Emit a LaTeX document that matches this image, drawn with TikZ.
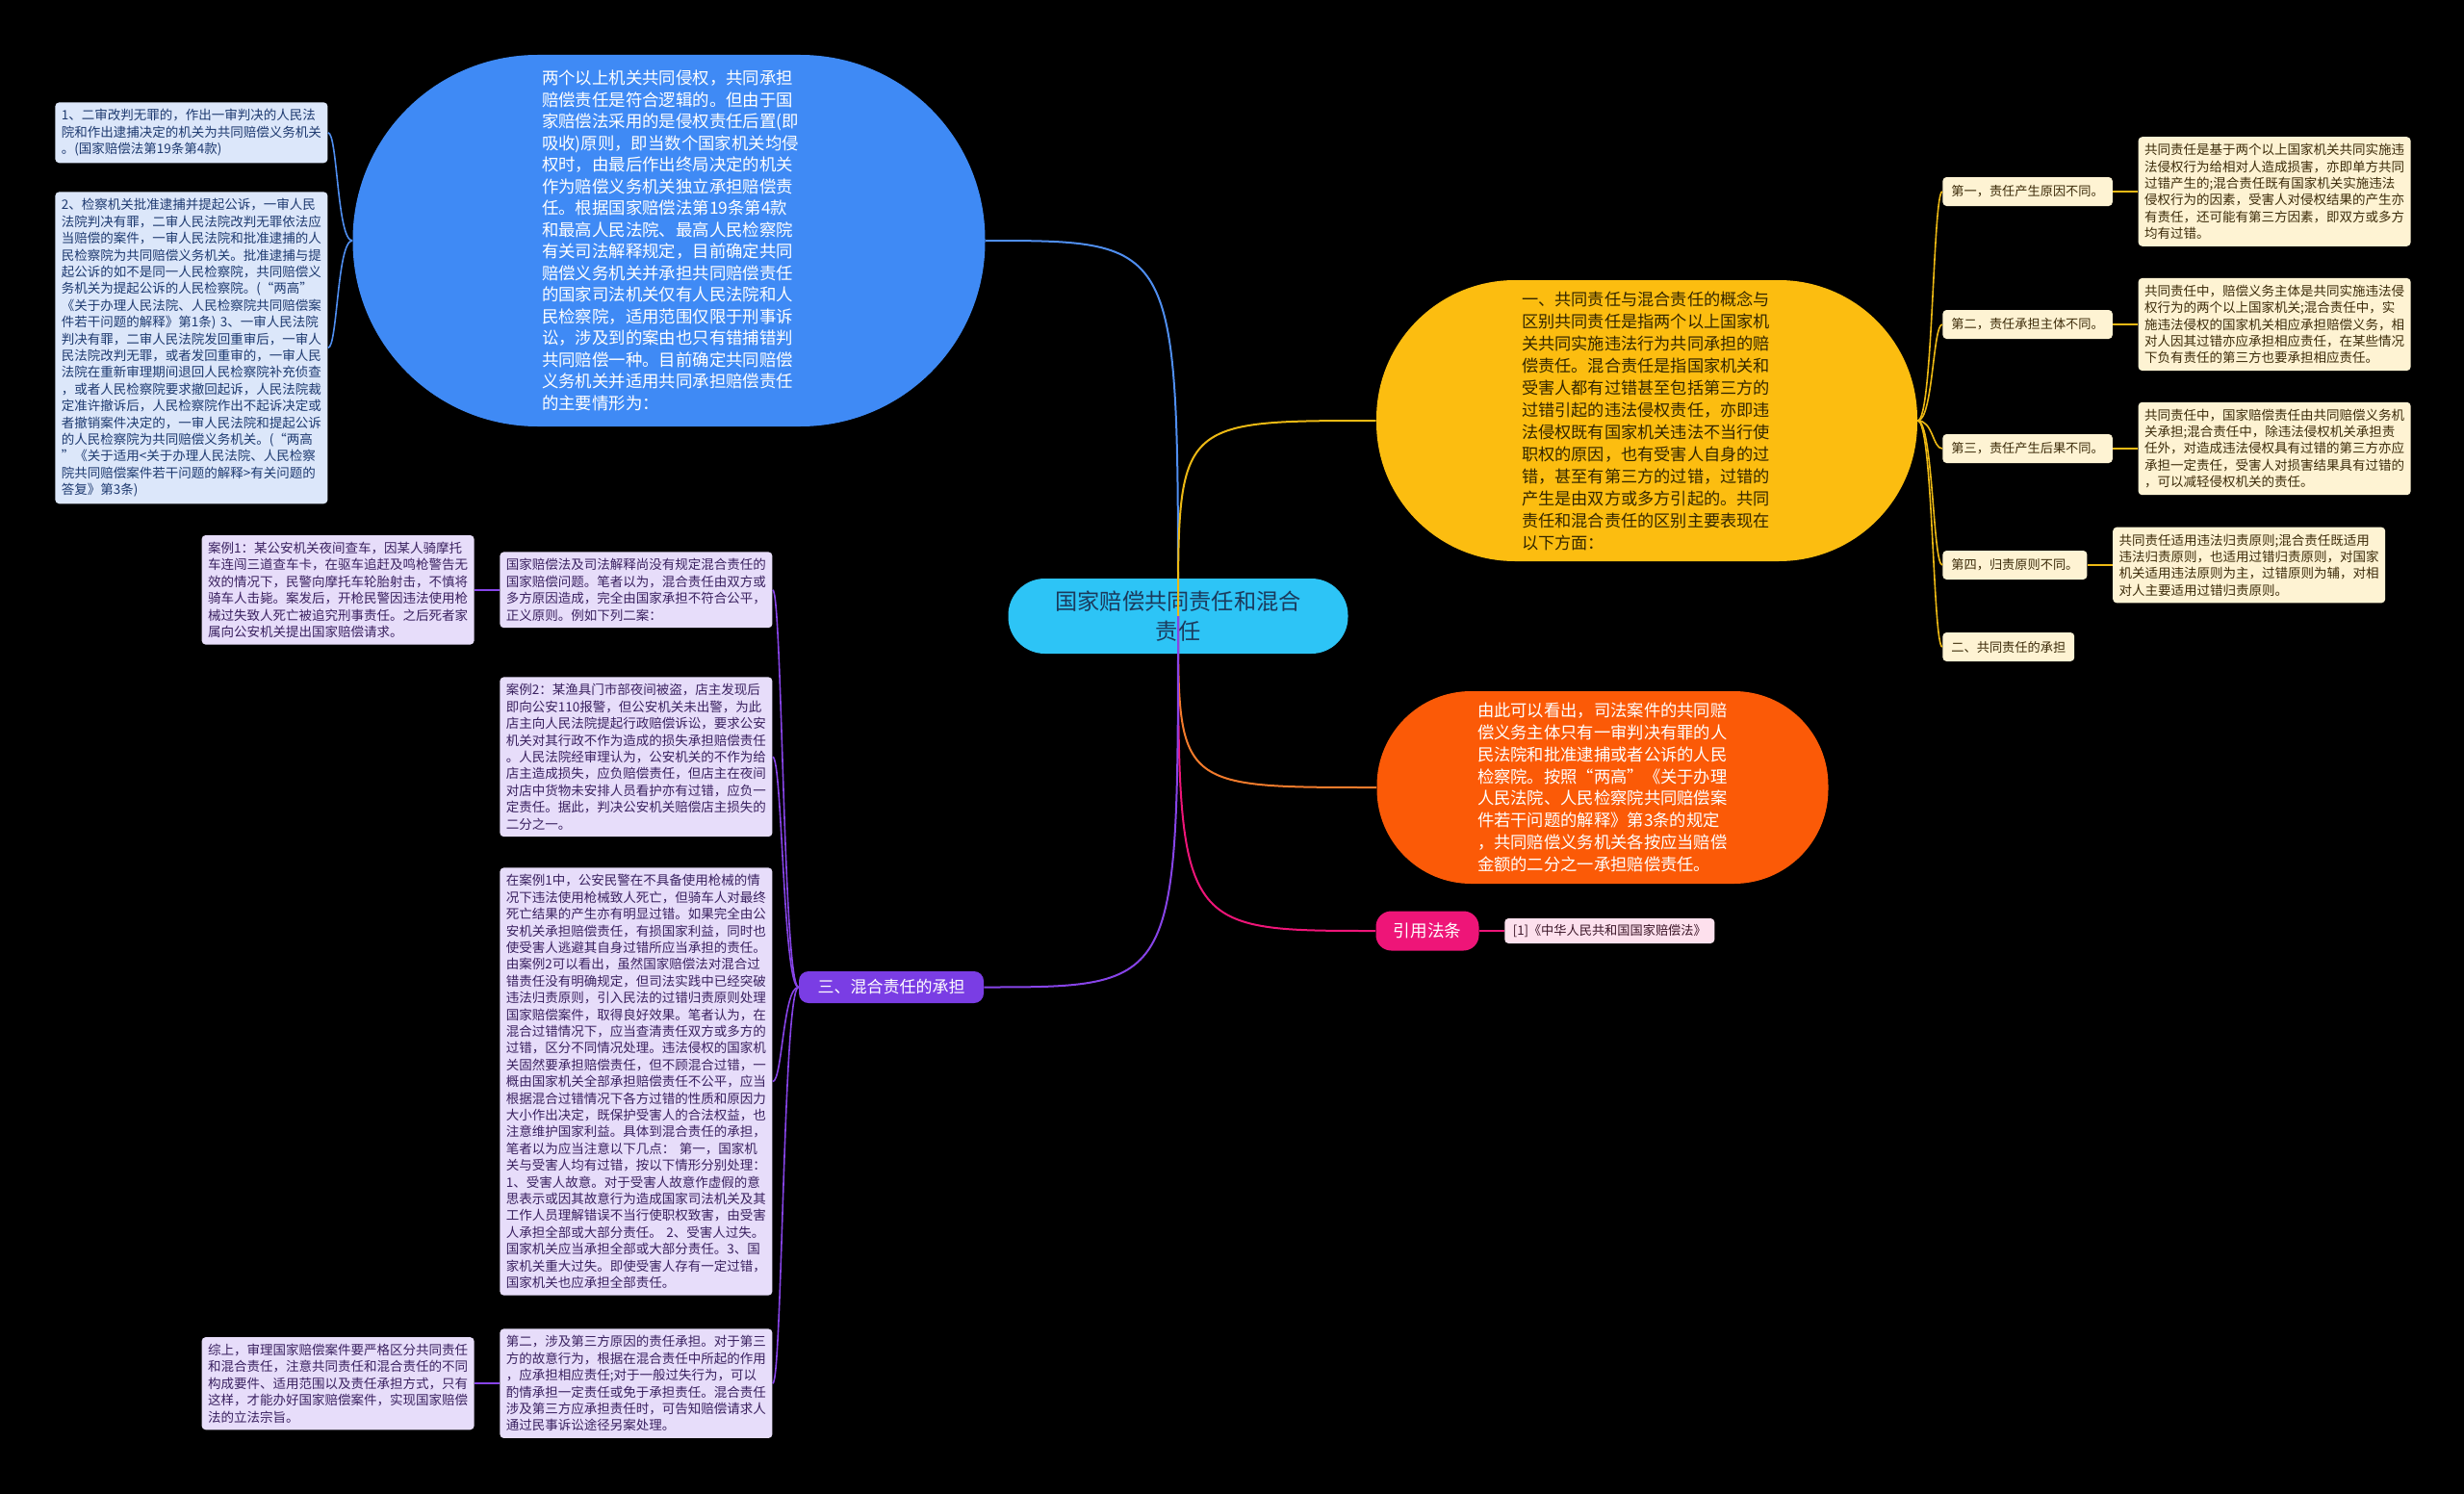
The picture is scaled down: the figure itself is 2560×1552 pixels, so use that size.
\documentclass[tikz,border=0pt]{standalone}
\usepackage{fontspec}
\setmainfont{Noto Sans CJK SC}
\usetikzlibrary{positioning}
\definecolor{hub}{HTML}{2DC4F6}
\definecolor{hubink}{HTML}{1B3A5C}
\definecolor{sky}{HTML}{3F8AF5}
\definecolor{skyline}{HTML}{4F8EF0}
\definecolor{skyleaf}{HTML}{DCE7FA}
\definecolor{skyink}{HTML}{1E3A70}
\definecolor{amber}{HTML}{FCBD10}
\definecolor{amberink}{HTML}{332600}
\definecolor{goldline}{HTML}{EDB914}
\definecolor{cream}{HTML}{FEF3D3}
\definecolor{creamink}{HTML}{3D2C0A}
\definecolor{flame}{HTML}{FB5A07}
\definecolor{flameline}{HTML}{F37B2C}
\definecolor{berry}{HTML}{EE1578}
\definecolor{blush}{HTML}{FDE0ED}
\definecolor{blushink}{HTML}{3C1628}
\definecolor{violet}{HTML}{7A3DE4}
\definecolor{violetline}{HTML}{8744E8}
\definecolor{lilac}{HTML}{E7DDFA}
\definecolor{lilacink}{HTML}{3A2160}

\begin{document}
\begin{tikzpicture}[x=0.5pt,y=-0.5pt,
  lobe/.style={rounded corners=#1,inner sep=0pt,align=left},
  leafbox/.style={anchor=north west,rounded corners=2pt,inner xsep=3.25pt,
    inner ysep=3.5pt,text width=135pt,align=left,
    font=\fontsize{6.75}{8.7}\selectfont},
  skybox/.style={leafbox,fill=skyleaf,text=skyink},
  lilacbox/.style={leafbox,fill=lilac,text=lilacink},
  creambox/.style={leafbox,fill=cream,text=creamink},
  tagbox/.style={anchor=west,rounded corners=2pt,fill=cream,text=creamink,
    inner xsep=4.5pt,inner ysep=0pt,minimum height=15pt,
    font=\fontsize{6.6}{8}\selectfont},
  link/.style={line width=1pt},
  thinlink/.style={line width=0.8pt}]
  \fill[black] (0,0) rectangle (2560,1552);
  \useasboundingbox (0,0) rectangle (2560,1552);

  % centre
  \node[lobe=19pt,fill=hub,text=hubink,align=center,minimum width=176.5pt,
    minimum height=39pt,font=\fontsize{11.6}{15.5}\selectfont] (hub) at (1224,640)
    {国家赔偿共同责任和混合\\责任};

  % joint liability, left top
  \node[lobe=96pt,fill=sky,text=white,minimum width=328.5pt,minimum height=193pt,
    text width=132pt,font=\fontsize{8.7}{11.25}\selectfont] (joint) at (695,250)
    {两个以上机关共同侵权，共同承担\\
     赔偿责任是符合逻辑的。但由于国\\
     家赔偿法采用的是侵权责任后置(即\\
     吸收)原则，即当数个国家机关均侵\\
     权时，由最后作出终局决定的机关\\
     作为赔偿义务机关独立承担赔偿责\\
     任。根据国家赔偿法第19条第4款\\
     和最高人民法院、最高人民检察院\\
     有关司法解释规定，目前确定共同\\
     赔偿义务机关并承担共同赔偿责任\\
     的国家司法机关仅有人民法院和人\\
     民检察院，适用范围仅限于刑事诉\\
     讼，涉及到的案由也只有错捕错判\\
     共同赔偿一种。目前确定共同赔偿\\
     义务机关并适用共同承担赔偿责任\\
     的主要情形为：};
  \node[skybox] (art1) at (57,106)
    {1、二审改判无罪的，作出一审判决的人民法\\
     院和作出逮捕决定的机关为共同赔偿义务机关\\
     。(国家赔偿法第19条第4款)};
  \node[skybox] (art2) at (57,199)
    {2、检察机关批准逮捕并提起公诉，一审人民\\
     法院判决有罪，二审人民法院改判无罪依法应\\
     当赔偿的案件，一审人民法院和批准逮捕的人\\
     民检察院为共同赔偿义务机关。批准逮捕与提\\
     起公诉的如不是同一人民检察院，共同赔偿义\\
     务机关为提起公诉的人民检察院。(“两高”\\
     《关于办理人民法院、人民检察院共同赔偿案\\
     件若干问题的解释》第1条)~3、一审人民法院\\
     判决有罪，二审人民法院发回重审后，一审人\\
     民法院改判无罪，或者发回重审的，一审人民\\
     法院在重新审理期间退回人民检察院补充侦查\\
     ，或者人民检察院要求撤回起诉，人民法院裁\\
     定准许撤诉后，人民检察院作出不起诉决定或\\
     者撤销案件决定的，一审人民法院和提起公诉\\
     的人民检察院为共同赔偿义务机关。(“两高\\
     ”《关于适用<关于办理人民法院、人民检察\\
     院共同赔偿案件若干问题的解释>有关问题的\\
     答复》第3条)};

  % concept, right top
  \node[lobe=72pt,fill=amber,text=amberink,minimum width=281pt,minimum height=146pt,
    text width=130pt,font=\fontsize{8.6}{11.5}\selectfont] (concept) at (1711,437)
    {一、共同责任与混合责任的概念与\\
     区别共同责任是指两个以上国家机\\
     关共同实施违法行为共同承担的赔\\
     偿责任。混合责任是指国家机关和\\
     受害人都有过错甚至包括第三方的\\
     过错引起的违法侵权责任，亦即违\\
     法侵权既有国家机关违法不当行使\\
     职权的原因，也有受害人自身的过\\
     错，甚至有第三方的过错，过错的\\
     产生是由双方或多方引起的。共同\\
     责任和混合责任的区别主要表现在\\
     以下方面：};
  \node[tagbox] (cause) at (2018,199) {第一，责任产生原因不同。};
  \node[tagbox] (subject) at (2018,337) {第二，责任承担主体不同。};
  \node[tagbox] (result) at (2018,466) {第三，责任产生后果不同。};
  \node[tagbox] (principle) at (2018,587) {第四，归责原则不同。};
  \node[tagbox] (bearing) at (2018,672) {二、共同责任的承担};
  \node[creambox,right=13pt of cause] (causetxt)
    {共同责任是基于两个以上国家机关共同实施违\\
     法侵权行为给相对人造成损害，亦即单方共同\\
     过错产生的;混合责任既有国家机关实施违法\\
     侵权行为的因素，受害人对侵权结果的产生亦\\
     有责任，还可能有第三方因素，即双方或多方\\
     均有过错。};
  \node[creambox,right=13pt of subject] (subjecttxt)
    {共同责任中，赔偿义务主体是共同实施违法侵\\
     权行为的两个以上国家机关;混合责任中，实\\
     施违法侵权的国家机关相应承担赔偿义务，相\\
     对人因其过错亦应承担相应责任，在某些情况\\
     下负有责任的第三方也要承担相应责任。};
  \node[creambox,right=13pt of result] (resulttxt)
    {共同责任中，国家赔偿责任由共同赔偿义务机\\
     关承担;混合责任中，除违法侵权机关承担责\\
     任外，对造成违法侵权具有过错的第三方亦应\\
     承担一定责任，受害人对损害结果具有过错的\\
     ，可以减轻侵权机关的责任。};
  \node[creambox,right=13pt of principle] (principletxt)
    {共同责任适用违法归责原则;混合责任既适用\\
     违法归责原则，也适用过错归责原则，对国家\\
     机关适用违法原则为主，过错原则为辅，对相\\
     对人主要适用过错归责原则。};

  % share, right middle
  \node[lobe=49pt,fill=flame,text=white,minimum width=234.5pt,minimum height=100pt,
    text width=130pt,font=\fontsize{8.65}{11.4}\selectfont] (share) at (1665,818)
    {由此可以看出，司法案件的共同赔\\
     偿义务主体只有一审判决有罪的人\\
     民法院和批准逮捕或者公诉的人民\\
     检察院。按照“两高”《关于办理\\
     人民法院、人民检察院共同赔偿案\\
     件若干问题的解释》第3条的规定\\
     ，共同赔偿义务机关各按应当赔偿\\
     金额的二分之一承担赔偿责任。};

  % cited law
  \node[rounded corners=8pt,fill=berry,text=white,minimum width=53.5pt,
    minimum height=20.5pt,inner sep=0pt,font=\fontsize{8.8}{10}\selectfont]
    (cite) at (1483,967) {引用法条};
  \node[rounded corners=2pt,fill=blush,text=blushink,minimum width=109pt,
    minimum height=13pt,inner sep=0pt,font=\fontsize{6.6}{8}\selectfont,
    right=13pt of cite] (law) {[1]《中华人民共和国国家赔偿法》};

  % mixed liability, left bottom
  \node[rounded corners=5pt,fill=violet,text=white,minimum width=96pt,
    minimum height=16.5pt,inner sep=0pt,font=\fontsize{8.5}{10}\selectfont]
    (mixed) at (926,1025.5) {三、混合责任的承担};
  \node[lilacbox] (gap) at (519,573)
    {国家赔偿法及司法解释尚没有规定混合责任的\\
     国家赔偿问题。笔者以为，混合责任由双方或\\
     多方原因造成，完全由国家承担不符合公平，\\
     正义原则。例如下列二案：};
  \node[lilacbox,anchor=east,left=13pt of gap] (case1)
    {案例1：某公安机关夜间查车，因某人骑摩托\\
     车连闯三道查车卡，在驱车追赶及鸣枪警告无\\
     效的情况下，民警向摩托车轮胎射击，不慎将\\
     骑车人击毙。案发后，开枪民警因违法使用枪\\
     械过失致人死亡被追究刑事责任。之后死者家\\
     属向公安机关提出国家赔偿请求。};
  \node[lilacbox] (case2) at (519,703)
    {案例2：某渔具门市部夜间被盗，店主发现后\\
     即向公安110报警，但公安机关未出警，为此\\
     店主向人民法院提起行政赔偿诉讼，要求公安\\
     机关对其行政不作为造成的损失承担赔偿责任\\
     。人民法院经审理认为，公安机关的不作为给\\
     店主造成损失，应负赔偿责任，但店主在夜间\\
     对店中货物未安排人员看护亦有过错，应负一\\
     定责任。据此，判决公安机关赔偿店主损失的\\
     二分之一。};
  \node[lilacbox] (verdict) at (519,901)
    {在案例1中，公安民警在不具备使用枪械的情\\
     况下违法使用枪械致人死亡，但骑车人对最终\\
     死亡结果的产生亦有明显过错。如果完全由公\\
     安机关承担赔偿责任，有损国家利益，同时也\\
     使受害人逃避其自身过错所应当承担的责任。\\
     由案例2可以看出，虽然国家赔偿法对混合过\\
     错责任没有明确规定，但司法实践中已经突破\\
     违法归责原则，引入民法的过错归责原则处理\\
     国家赔偿案件，取得良好效果。笔者认为，在\\
     混合过错情况下，应当查清责任双方或多方的\\
     过错，区分不同情况处理。违法侵权的国家机\\
     关固然要承担赔偿责任，但不顾混合过错，一\\
     概由国家机关全部承担赔偿责任不公平，应当\\
     根据混合过错情况下各方过错的性质和原因力\\
     大小作出决定，既保护受害人的合法权益，也\\
     注意维护国家利益。具体到混合责任的承担，\\
     笔者以为应当注意以下几点：~第一，国家机\\
     关与受害人均有过错，按以下情形分别处理：\\
     1、受害人故意。对于受害人故意作虚假的意\\
     思表示或因其故意行为造成国家司法机关及其\\
     工作人员理解错误不当行使职权致害，由受害\\
     人承担全部或大部分责任。~2、受害人过失。\\
     国家机关应当承担全部或大部分责任。3、国\\
     家机关重大过失。即使受害人存有一定过错，\\
     国家机关也应承担全部责任。};
  \node[lilacbox] (third) at (519,1380)
    {第二，涉及第三方原因的责任承担。对于第三\\
     方的故意行为，根据在混合责任中所起的作用\\
     ，应承担相应责任;对于一般过失行为，可以\\
     酌情承担一定责任或免于承担责任。混合责任\\
     涉及第三方应承担责任时，可告知赔偿请求人\\
     通过民事诉讼途径另案处理。};
  \node[lilacbox,anchor=east,left=13pt of third] (sum)
    {综上，审理国家赔偿案件要严格区分共同责任\\
     和混合责任，注意共同责任和混合责任的不同\\
     构成要件、适用范围以及责任承担方式，只有\\
     这样，才能办好国家赔偿案件，实现国家赔偿\\
     法的立法宗旨。};

  % connectors
  \draw[link,skyline] (hub.center) .. controls (hub.center |- joint.east) .. (joint.east);
  \draw[link,goldline] (hub.center) .. controls (hub.center |- concept.west) .. (concept.west);
  \draw[link,flameline] (hub.center) .. controls (hub.center |- share.west) .. (share.west);
  \draw[link,berry] (hub.center) .. controls (hub.center |- cite.west) .. (cite.west);
  \draw[link,violetline] (hub.center) .. controls (hub.center |- mixed.east) .. (mixed.east);
  \foreach \leaf in {art1,art2}
    \draw[thinlink,skyline] (joint.west) .. controls +(-16,0) and +(10,0) .. (\leaf.east);
  \foreach \lbl in {cause,subject,result,principle,bearing}
    \draw[thinlink,goldline] (concept.east) .. controls +(16,0) and +(-10,0) .. (\lbl.west);
  \foreach \lbl in {cause,subject,result,principle}
    \draw[thinlink,goldline] (\lbl.east) -- (\lbl txt.west);
  \foreach \leaf in {gap,case2,verdict,third}
    \draw[thinlink,violetline] (mixed.west) .. controls +(-16,0) and +(10,0) .. (\leaf.east);
  \draw[thinlink,violetline] (gap.west) -- (case1.east);
  \draw[thinlink,violetline] (third.west) -- (sum.east);
  \draw[thinlink,berry] (cite.east) -- (law.west);
\end{tikzpicture}
\end{document}
